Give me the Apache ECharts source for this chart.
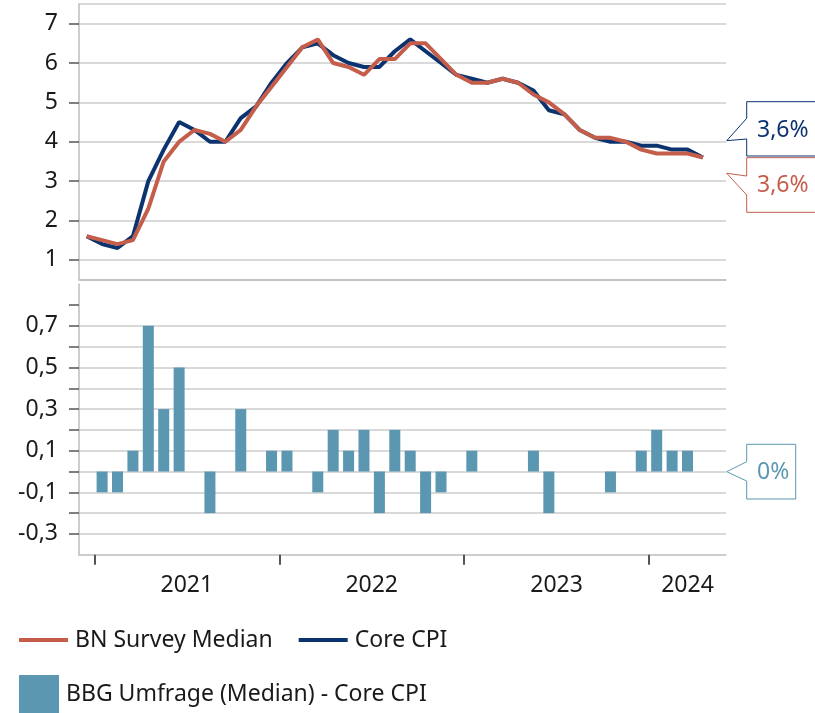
<!DOCTYPE html>
<html><head><meta charset="utf-8">
<script src="https://cdn.jsdelivr.net/npm/echarts@6/dist/echarts.min.js"></script>
<style>html,body{margin:0;padding:0;background:#fff}#c{width:815px;height:713px}</style>
</head><body><div id="c"></div>
<script>
const months = ['2020-12',
  '2021-01','2021-02','2021-03','2021-04','2021-05','2021-06','2021-07','2021-08','2021-09','2021-10','2021-11','2021-12',
  '2022-01','2022-02','2022-03','2022-04','2022-05','2022-06','2022-07','2022-08','2022-09','2022-10','2022-11','2022-12',
  '2023-01','2023-02','2023-03','2023-04','2023-05','2023-06','2023-07','2023-08','2023-09','2023-10','2023-11','2023-12',
  '2024-01','2024-02','2024-03','2024-04','2024-05'];
const coreCPI = [1.6,1.4,1.3,1.6,3.0,3.8,4.5,4.3,4.0,4.0,4.6,4.9,5.5,6.0,6.4,6.5,6.2,6.0,5.9,5.9,6.3,6.6,6.3,6.0,5.7,5.6,5.5,5.6,5.5,5.3,4.8,4.7,4.3,4.1,4.0,4.0,3.9,3.9,3.8,3.8,3.6];
const bnSurvey = [1.6,1.5,1.4,1.5,2.3,3.5,4.0,4.3,4.2,4.0,4.3,4.9,5.4,5.9,6.4,6.6,6.0,5.9,5.7,6.1,6.1,6.5,6.5,6.1,5.7,5.5,5.5,5.6,5.5,5.2,5.0,4.7,4.3,4.1,4.1,4.0,3.8,3.7,3.7,3.7,3.6];
const bbgDiff = [0,-0.1,-0.1,0.1,0.7,0.3,0.5,0,-0.2,0,0.3,0,0.1,0.1,0,-0.1,0.2,0.1,0.2,-0.2,0.2,0.1,-0.2,-0.1,0,0.1,0,0,0,0.1,-0.2,0,0,0,-0.1,0,0.1,0.2,0.1,0.1,0];
const diffTicks = [-0.3,-0.2,-0.1,0,0.1,0.2,0.3,0.4,0.5,0.6,0.7,0.8];
const diffTickLabels = [-0.3,-0.1,0.1,0.3,0.5,0.7];
// month-slot positions (0 = start of Dec 2020 slot) of year boundaries and year labels
const yearBoundaries = [1, 13, 25, 37];
const yearLabelPos = [7, 19, 31, 39.5];
const yearLabelText = ['2021', '2022', '2023', '2024'];
const calloutCore = '3,6%', calloutBN = '3,6%', calloutDiff = '0%';

const NAVY = '#0b3370', RED = '#c45e4b', TEAL = '#5b97b1';
const FONT = 'Noto Sans';
const FS = 23;
const GRID = '#cccccc', AXIS = '#bdbdbd', TICK = '#555555', TXT = '#1a1a1a';

const chart = echarts.init(document.getElementById('c'), null, {renderer: 'canvas'});
const fmtNum = v => v.toFixed(1).replace('.', ',');

chart.setOption({
  animation: false,
  textStyle: {fontFamily: FONT},
  grid: [
    {left: 79, right: 89, top: 4, height: 275.5, outerBoundsMode: 'none'},
    {left: 79, right: 89, top: 284.25, height: 270.5, outerBoundsMode: 'none'}
  ],
  legend: [
    {left: 19, top: 628, padding: 0, itemWidth: 49, itemHeight: 4, itemGap: 26, icon: 'rect',
     textStyle: {fontFamily: FONT, fontSize: FS, color: TXT, lineHeight: 24, padding: [0, 0, 0, 2]},
     data: ['BN Survey Median', 'Core CPI']},
    {left: 19, top: 675, padding: 0, itemWidth: 40, itemHeight: 38, icon: 'rect',
     textStyle: {fontFamily: FONT, fontSize: FS, color: TXT, padding: [0, 0, 0, 2]},
     data: ['BBG Umfrage (Median) - Core CPI']}
  ],
  xAxis: [
    {type: 'category', gridIndex: 0, data: months, boundaryGap: true,
     axisLine: {show: true, onZero: false, lineStyle: {color: AXIS, width: 1.5}},
     axisTick: {show: false}, axisLabel: {show: false}, splitLine: {show: false}},
    {type: 'category', gridIndex: 1, data: months, boundaryGap: true, position: 'bottom',
     axisLine: {show: true, onZero: false, lineStyle: {color: AXIS, width: 1.5}},
     axisTick: {show: false}, axisLabel: {show: false}, splitLine: {show: false}},
    {type: 'value', gridIndex: 1, min: 0, max: months.length, position: 'bottom',
     axisLine: {show: false, onZero: false},
     axisTick: {show: true, length: 10, lineStyle: {color: TICK, width: 2}, customValues: yearBoundaries},
     axisLabel: {show: true, customValues: yearLabelPos, margin: 19, fontSize: FS, color: TXT, fontFamily: FONT,
       formatter: v => { const k = yearLabelPos.indexOf(v); return k >= 0 ? yearLabelText[k] : ''; }},
     splitLine: {show: false}}
  ],
  yAxis: [
    {type: 'value', gridIndex: 0, min: 0.5, max: 7.5, splitNumber: 7,
     axisLine: {show: true, lineStyle: {color: AXIS, width: 1.5}},
     axisTick: {show: true, length: 10, lineStyle: {color: TICK, width: 1.5}},
     axisLabel: {show: true, margin: 21, fontSize: FS, color: TXT, fontFamily: FONT},
     splitLine: {show: true, lineStyle: {color: GRID, width: 1.5}}},
    {type: 'value', gridIndex: 1, min: -0.4, max: 0.9, interval: 0.1,
     axisLine: {show: true, lineStyle: {color: AXIS, width: 1.5}},
     axisTick: {show: true, length: 10, lineStyle: {color: TICK, width: 1.5}, customValues: diffTicks},
     axisLabel: {show: true, customValues: diffTickLabels, margin: 21, fontSize: FS, color: TXT, fontFamily: FONT,
       formatter: v => fmtNum(v)},
     splitLine: {show: true, showMaxLine: false, lineStyle: {color: GRID, width: 1.5}}}
  ],
  series: [
    {name: 'Core CPI', type: 'line', xAxisIndex: 0, yAxisIndex: 0, data: coreCPI,
     symbol: 'none', lineStyle: {color: NAVY, width: 4}, itemStyle: {color: NAVY}, z: 3},
    {name: 'BN Survey Median', type: 'line', xAxisIndex: 0, yAxisIndex: 0, data: bnSurvey,
     symbol: 'none', lineStyle: {color: RED, width: 4}, itemStyle: {color: RED}, z: 4},
    {name: 'BBG Umfrage (Median) - Core CPI', type: 'bar', xAxisIndex: 1, yAxisIndex: 1, data: bbgDiff,
     barWidth: 11, itemStyle: {color: TEAL}}
  ],
  graphic: [
    {type: 'polygon', silent: true, z: 10,
     shape: {points: [[830,101.7],[746.7,101.7],[746.7,118.3],[726.7,140.7],[746.7,139],[746.7,156],[830,156]]},
     style: {fill: '#fff', stroke: NAVY, lineWidth: 1}},
    {type: 'text', silent: true, z: 11, left: 757, top: 119,
     style: {text: calloutCore, fill: NAVY, font: FS + 'px "Noto Sans"'}},
    {type: 'polygon', silent: true, z: 10,
     shape: {points: [[830,157.7],[746.7,157.7],[746.7,176],[726.7,173.3],[746.7,195],[746.7,212.3],[830,212.3]]},
     style: {fill: '#fff', stroke: RED, lineWidth: 1}},
    {type: 'text', silent: true, z: 11, left: 757, top: 174,
     style: {text: calloutBN, fill: RED, font: FS + 'px "Noto Sans"'}},
    {type: 'polygon', silent: true, z: 10,
     shape: {points: [[795.7,444.3],[746.7,444.3],[746.7,461.7],[726.7,471.7],[746.7,481],[746.7,499],[795.7,499]]},
     style: {fill: '#fff', stroke: TEAL, lineWidth: 1}},
    {type: 'text', silent: true, z: 11, left: 757, top: 461,
     style: {text: calloutDiff, fill: TEAL, font: FS + 'px "Noto Sans"'}}
  ]
});
</script>
</body></html>
